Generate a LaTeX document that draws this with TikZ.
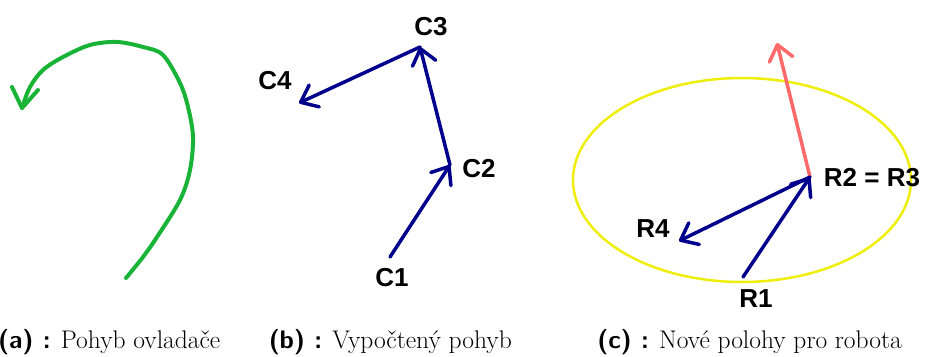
\documentclass[tikz,border=0pt]{standalone}
\usepackage{fontspec}
\newfontfamily\labelfont{Liberation Sans}
\usetikzlibrary{arrows.meta,shapes.geometric}
\definecolor{pengreen}{RGB}{25,180,55}
\definecolor{pennavy}{RGB}{0,0,140}
\definecolor{penyellow}{RGB}{238,238,10}
\definecolor{penred}{RGB}{255,105,105}
\begin{document}
\begin{tikzpicture}[x=1pt,y=-1pt,
  lbl/.style={font=\labelfont\bfseries\fontsize{26}{30}\selectfont, inner sep=0pt},
  subcap/.style={font=\fontsize{25.5}{30}\selectfont, inner sep=0pt},
  barb/.style={-{Straight Barb[length=15pt,width=24pt,round]}},
  vec/.style={pennavy, line width=3.5pt, line cap=round, line join=round, barb},
  redvec/.style={penred, line width=3.5pt, line cap=round, line join=round, barb},
  stroke/.style={pengreen, line width=4pt, line cap=round, line join=round}]
\useasboundingbox (0,0) rectangle (926,356);

% (a) hand-drawn controller motion
\draw[stroke] plot[smooth, tension=0.55] coordinates {
  (126,278) (143,257) (157,237) (180,200) (190,170) (193,137) (188,107)
  (180,83) (163,55) (143,47) (117,42) (90,45) (63,57) (43,70) (30,87) (22,108)};
\coordinate (gtip) at (22,108);
\coordinate (gl) at (12,87);
\coordinate (gr) at (38,90);
\draw[stroke] (gl) -- (gtip) -- (gr);

% (b) computed motion
\coordinate (c1) at (390,257);
\coordinate (c2) at (450,165);
\coordinate (c3) at (420,47);
\coordinate (c4) at (299,103);
\draw[vec] (c1) -- (c2);
\draw[vec] (c2) -- (c3);
\draw[vec] (c3) -- (c4);
\node[lbl] (lc1) at (392,278) {C1};
\node[lbl] (lc2) at (479,169) {C2};
\node[lbl] (lc3) at (431,27) {C3};
\node[lbl] (lc4) at (275,81) {C4};

% (c) new robot positions inside the workspace
\node[draw=penyellow, line width=2.5pt, ellipse, minimum width=338pt, minimum height=204pt, inner sep=0pt] (ws) at (742,180) {};
\coordinate (r1) at (743,277);
\coordinate (r2) at (810,177);
\coordinate (r4) at (679,241);
\coordinate (rout) at (777,43);
\draw[redvec] (r2) -- (rout);
\draw[vec] (r1) -- (r2);
\draw[vec] (r2) -- (r4);
\node[lbl] (lr1) at (756,299) {R1};
\node[lbl] (lr23) at (872,178) {R2 = R3};
\node[lbl] (lr4) at (653,229) {R4};

% captions
\node[subcap, anchor=base west] (capa) at (-2,348) {{\sffamily\bfseries (a) :} Pohyb ovladače};
\node[subcap, anchor=base east] (capb) at (512,348) {{\sffamily\bfseries (b) :} Vypočtený pohyb};
\node[subcap, anchor=base east] (capc) at (902,348) {{\sffamily\bfseries (c) :} Nové polohy pro robota};
\end{tikzpicture}
\end{document}
